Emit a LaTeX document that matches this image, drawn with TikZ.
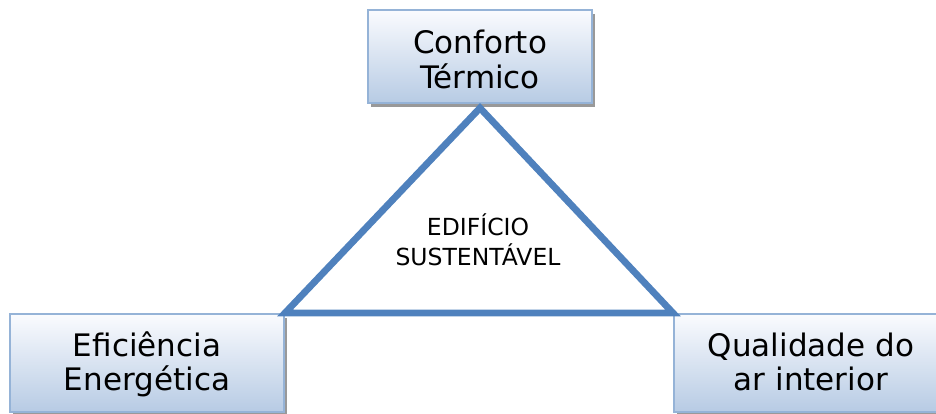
\documentclass[tikz,border=0pt]{standalone}
\usepackage{fontspec}
\setmainfont{DejaVu Sans}
\usetikzlibrary{calc}
\usetikzlibrary{shadows}
\definecolor{boxtop}{RGB}{250,251,254}
\definecolor{boxbot}{RGB}{183,203,228}
\definecolor{boxline}{RGB}{149,179,215}
\definecolor{triline}{RGB}{79,129,189}
\tikzstyle{pillar}=[draw=boxline,line width=2pt,top color=boxtop,bottom color=boxbot,inner sep=0pt,anchor=north west,font=\fontsize{31}{34}\selectfont,drop shadow={shadow xshift=3pt,shadow yshift=-4pt,fill=black!40,opacity=1}]
\tikzstyle{core}=[inner sep=0pt,anchor=base,font=\fontsize{23.5}{29}\selectfont]
\newcommand{\twolines}[2]{\begin{tabular}[t]{@{}c@{}}#1\\#2\end{tabular}}

\begin{document}
\begin{tikzpicture}[x=1pt,y=-1pt]
        \useasboundingbox (0,0) rectangle (936,414);
        \clip (0,0) rectangle (936,414);
        \node[pillar,minimum width=224pt,text height=44pt,text depth=49pt] (comfort) at (367,9) {\twolines{Conforto}{Térmico}};
        \node[pillar,minimum width=274pt,text height=42pt,text depth=56pt] (eff) at (9,313) {\twolines{Eficiência}{Energética}};
        \node[pillar,minimum width=274pt,text height=42pt,text depth=56pt] (air) at (673,313) {\twolines{Qualidade do}{ar interior}};
        \draw[triline,line width=6.8pt] ($(comfort.south)+(0,4)$) -- (eff.north east) -- (air.north west) -- cycle;
        \node[core] (bldg) at (478,235) {\twolines{EDIFÍCIO}{SUSTENTÁVEL}};
      \end{tikzpicture}
\end{document}
